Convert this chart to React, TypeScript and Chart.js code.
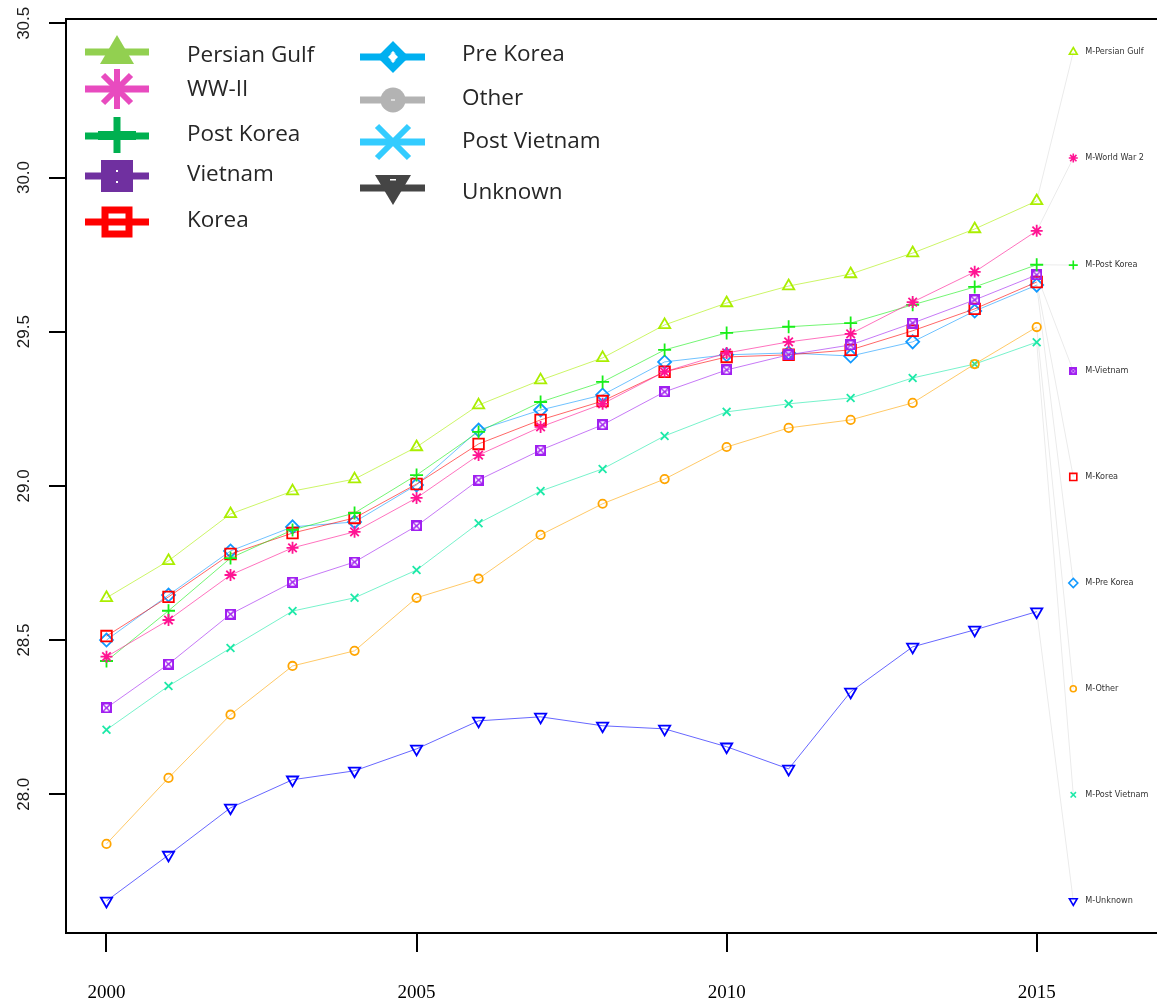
import React, { useEffect, useRef } from "react";
import { Chart, registerables } from "chart.js";
Chart.register(...registerables);

// ---------- DATA ----------
const years = [2000, 2001, 2002, 2003, 2004, 2005, 2006, 2007, 2008, 2009, 2010, 2011, 2012, 2013, 2014, 2015];

const persianGulf = [28.637, 28.757, 28.909, 28.983, 29.022, 29.126, 29.262, 29.343, 29.415, 29.522, 29.593, 29.648, 29.687, 29.755, 29.833, 29.924];
const worldWar2 = [28.446, 28.565, 28.711, 28.799, 28.851, 28.961, 29.100, 29.191, 29.266, 29.370, 29.431, 29.467, 29.493, 29.596, 29.694, 29.827];
const postKorea = [28.432, 28.595, 28.766, 28.857, 28.912, 29.035, 29.175, 29.272, 29.337, 29.441, 29.496, 29.516, 29.528, 29.587, 29.645, 29.717];
const vietnam = [28.280, 28.422, 28.584, 28.688, 28.753, 28.870, 29.019, 29.116, 29.198, 29.305, 29.376, 29.425, 29.457, 29.528, 29.603, 29.684];
const korea = [28.513, 28.640, 28.779, 28.847, 28.896, 29.006, 29.136, 29.214, 29.275, 29.370, 29.418, 29.425, 29.441, 29.503, 29.574, 29.661];
const preKorea = [28.500, 28.646, 28.789, 28.867, 28.883, 29.003, 29.181, 29.246, 29.295, 29.402, 29.425, 29.431, 29.421, 29.467, 29.567, 29.651];
const other = [27.839, 28.053, 28.258, 28.416, 28.465, 28.637, 28.699, 28.841, 28.942, 29.022, 29.126, 29.188, 29.214, 29.269, 29.395, 29.515];
const postVietnam = [28.209, 28.351, 28.474, 28.594, 28.637, 28.727, 28.879, 28.983, 29.055, 29.162, 29.240, 29.266, 29.285, 29.350, 29.395, 29.466];
const unknown = [27.654, 27.803, 27.956, 28.047, 28.076, 28.147, 28.238, 28.251, 28.222, 28.212, 28.154, 28.082, 28.332, 28.478, 28.533, 28.592];

const seriesValues = [persianGulf, worldWar2, postKorea, vietnam, korea, preKorea, other, postVietnam, unknown];

const endLabels = ["M-Persian Gulf", "M-World War 2", "M-Post Korea", "M-Vietnam", "M-Korea", "M-Pre Korea", "M-Other", "M-Post Vietnam", "M-Unknown"];
const endLabelValues = [30.407, 30.063, 29.716, 29.372, 29.029, 28.685, 28.342, 27.998, 27.654];
const endLabelYear = 2015.59;

const yTicks = [28.0, 28.5, 29.0, 29.5, 30.0, 30.5];
const xTicks = [2000, 2005, 2010, 2015];

const legendCol1 = ["Persian Gulf", "WW-II", "Post Korea", "Vietnam", "Korea"];
const legendCol2 = ["Pre Korea", "Other", "Post Vietnam", "Unknown"];

// ---------- STYLES ----------
const seriesColors = ["#aaee00", "#ff1493", "#18ee18", "#a020f0", "#ff0000", "#1199ff", "#ffa500", "#1de9a8", "#0000ff"];
const lineAlpha = 0.6;
const styleNames = ["triangle", "star", "cross", "sqx", "rect", "rectRot", "circle", "crossRot", "triangle"];
const rotations = [0, 0, 0, 0, 0, 0, 0, 0, 180];
const radii = [6.5, 6, 6.5, 6, 7.5, 6.5, 4.2, 5.5, 6.5];
const endRadii = [4.5, 4.5, 4.5, 4, 5, 4.5, 3, 3.8, 4.5];

const legendColors1 = ["#92d050", "#e84bbf", "#00b050", "#7030a0", "#ff0000"];
const legendColors2 = ["#00b0f0", "#b3b3b3", "#33ccff", "#454545"];
const legendKinds1 = ["triUp", "asterisk", "plus", "squareFilled", "squareOpen"];
const legendKinds2 = ["diamond", "circleFilled", "x", "triDown"];

function hexA(hex: string, a: number) {
  const r = parseInt(hex.slice(1, 3), 16), g = parseInt(hex.slice(3, 5), 16), b = parseInt(hex.slice(5, 7), 16);
  return `rgba(${r},${g},${b},${a})`;
}

function makeSqX(size: number, color: string) {
  const c = document.createElement("canvas");
  c.width = size; c.height = size;
  const x = c.getContext("2d")!;
  x.strokeStyle = color;
  x.lineWidth = 2;
  x.strokeRect(1, 1, size - 2, size - 2);
  x.lineWidth = 1.3;
  x.beginPath();
  x.moveTo(2, 2); x.lineTo(size - 2, size - 2);
  x.moveTo(size - 2, 2); x.lineTo(2, size - 2);
  x.stroke();
  return c;
}

function drawLegendMarker(ctx: CanvasRenderingContext2D, kind: string, cx: number, cy: number, color: string) {
  ctx.save();
  ctx.fillStyle = color;
  ctx.strokeStyle = color;
  ctx.lineCap = "butt";
  switch (kind) {
    case "triUp":
      ctx.beginPath(); ctx.moveTo(cx, cy - 17); ctx.lineTo(cx - 17, cy + 12); ctx.lineTo(cx + 17, cy + 12); ctx.closePath(); ctx.fill();
      break;
    case "asterisk":
      ctx.lineWidth = 6;
      ctx.beginPath();
      ctx.moveTo(cx, cy - 20); ctx.lineTo(cx, cy + 20);
      ctx.moveTo(cx - 14, cy - 14); ctx.lineTo(cx + 14, cy + 14);
      ctx.moveTo(cx + 14, cy - 14); ctx.lineTo(cx - 14, cy + 14);
      ctx.stroke();
      break;
    case "plus":
      ctx.lineWidth = 7;
      ctx.beginPath(); ctx.moveTo(cx, cy - 19); ctx.lineTo(cx, cy + 17); ctx.stroke();
      ctx.fillRect(cx - 19, cy - 5, 38, 9);
      break;
    case "squareFilled":
      ctx.fillRect(cx - 16, cy - 16, 32, 32);
      ctx.fillStyle = "#fff";
      ctx.fillRect(cx - 1, cy - 6, 2, 2);
      ctx.fillRect(cx - 1, cy + 5, 2, 2);
      break;
    case "squareOpen":
      ctx.lineWidth = 7;
      ctx.strokeRect(cx - 12, cy - 12, 24, 24);
      break;
    case "diamond":
      ctx.lineWidth = 7;
      ctx.beginPath(); ctx.moveTo(cx, cy - 11); ctx.lineTo(cx + 11, cy); ctx.lineTo(cx, cy + 11); ctx.lineTo(cx - 11, cy); ctx.closePath(); ctx.stroke();
      ctx.fillStyle = "#fff";
      ctx.beginPath(); ctx.moveTo(cx, cy - 5); ctx.lineTo(cx + 5, cy); ctx.lineTo(cx, cy + 5); ctx.lineTo(cx - 5, cy); ctx.closePath(); ctx.fill();
      break;
    case "circleFilled":
      ctx.beginPath(); ctx.arc(cx, cy, 12.5, 0, Math.PI * 2); ctx.fill();
      ctx.fillStyle = "#ddd";
      ctx.fillRect(cx - 2, cy - 1, 4, 2);
      break;
    case "x":
      ctx.lineWidth = 6;
      ctx.beginPath();
      ctx.moveTo(cx - 16, cy - 16); ctx.lineTo(cx + 16, cy + 16);
      ctx.moveTo(cx + 16, cy - 16); ctx.lineTo(cx - 16, cy + 16);
      ctx.stroke();
      break;
    case "triDown":
      ctx.beginPath(); ctx.moveTo(cx - 18, cy - 13); ctx.lineTo(cx + 18, cy - 13); ctx.lineTo(cx, cy + 17); ctx.closePath(); ctx.fill();
      ctx.fillStyle = "#fff";
      ctx.fillRect(cx - 3, cy - 9, 6, 1.5);
      break;
  }
  ctx.restore();
}

// layout constants for the legend
const LEG1 = { x1: 85, x2: 149, mx: 117, tx: 187, my: [52, 89, 136, 176, 222], ty: [56, 90, 135, 175, 221] };
const LEG2 = { x1: 360, x2: 425, mx: 393, tx: 462, my: [57, 100, 142, 188], ty: [55, 99, 142, 193] };

const overlayPlugin = {
  id: "overlay",
  afterDraw(chart: any) {
    const ctx: CanvasRenderingContext2D = chart.ctx;
    const { left, right, top } = chart.chartArea;
    const xs = chart.scales.x, ys = chart.scales.y;
    ctx.save();
    // top frame line
    ctx.strokeStyle = "#000"; ctx.lineWidth = 2;
    ctx.beginPath(); ctx.moveTo(left - 1, top); ctx.lineTo(right, top); ctx.stroke();

    // y tick labels (rotated)
    ctx.fillStyle = "#1a1a1a";
    ctx.font = '17px "Liberation Sans", Arial, sans-serif';
    ctx.textAlign = "center"; ctx.textBaseline = "middle";
    yTicks.forEach((v) => {
      const py = ys.getPixelForValue(v);
      ctx.save(); ctx.translate(24, py); ctx.rotate(-Math.PI / 2); ctx.fillText(v.toFixed(1), 0, 0); ctx.restore();
    });
    // x tick labels
    ctx.fillStyle = "#000";
    ctx.font = '19px "Liberation Serif", serif';
    xTicks.forEach((v) => ctx.fillText(String(v), xs.getPixelForValue(v), 993));

    // end labels
    ctx.fillStyle = "#333";
    ctx.font = '9px "DejaVu Sans Condensed", "Liberation Sans", sans-serif';
    ctx.textAlign = "left";
    endLabels.forEach((t, i) => ctx.fillText(t, xs.getPixelForValue(endLabelYear) + 12, ys.getPixelForValue(endLabelValues[i])));

    // legend
    const drawCol = (L: any, labels: string[], colors: string[], kinds: string[]) => {
      labels.forEach((lab, i) => {
        ctx.strokeStyle = colors[i]; ctx.lineWidth = 7;
        ctx.beginPath(); ctx.moveTo(L.x1, L.my[i]); ctx.lineTo(L.x2, L.my[i]); ctx.stroke();
        drawLegendMarker(ctx, kinds[i], L.mx, L.my[i], colors[i]);
        ctx.fillStyle = "#262626";
        ctx.font = '22.5px "Open Sans", "Noto Sans", sans-serif';
        ctx.textAlign = "left"; ctx.textBaseline = "middle";
        ctx.fillText(lab, L.tx, L.ty[i]);
      });
    };
    drawCol(LEG1, legendCol1, legendColors1, legendKinds1);
    drawCol(LEG2, legendCol2, legendColors2, legendKinds2);
    ctx.restore();
  },
};

export default function App() {
  const ref = useRef<HTMLCanvasElement>(null);
  useEffect(() => {
    if (!ref.current) return;
    const bigSq = makeSqX(11, seriesColors[3]);
    const smallSq = makeSqX(8, seriesColors[3]);
    const styleFor = (i: number, small: boolean): any => (styleNames[i] === "sqx" ? (small ? smallSq : bigSq) : styleNames[i]);

    const mainSets = seriesValues.map((vals, i) => ({
      label: endLabels[i],
      data: years.map((y, j) => ({ x: y, y: vals[j] })),
      borderColor: hexA(seriesColors[i], lineAlpha),
      borderWidth: 1,
      pointStyle: styleFor(i, false),
      rotation: rotations[i],
      pointRadius: radii[i],
      pointBorderColor: seriesColors[i],
      pointBackgroundColor: "rgba(0,0,0,0)",
      pointBorderWidth: 1.8,
      tension: 0,
    }));
    const leaderSets = seriesValues.map((vals, i) => ({
      label: endLabels[i] + " leader",
      data: [
        { x: years[years.length - 1], y: vals[vals.length - 1] },
        { x: endLabelYear, y: endLabelValues[i] },
      ],
      borderColor: "#ebebeb",
      borderWidth: 1,
      pointStyle: styleFor(i, true),
      rotation: rotations[i],
      pointRadius: [0, endRadii[i]],
      pointBorderColor: seriesColors[i],
      pointBackgroundColor: "rgba(0,0,0,0)",
      pointBorderWidth: 1.6,
    }));

    const chart = new Chart(ref.current, {
      type: "line",
      data: { datasets: [...mainSets, ...leaderSets] as any },
      plugins: [overlayPlugin],
      options: {
        animation: false,
        responsive: false,
        events: [],
        layout: { autoPadding: false, padding: { top: 19, right: 0, left: 0, bottom: 0 } },
        plugins: { legend: { display: false }, tooltip: { enabled: false } },
        scales: {
          x: {
            type: "linear",
            min: 1999.347,
            max: 2016.94,
            afterBuildTicks: (s: any) => { s.ticks = xTicks.map((v) => ({ value: v })); },
            afterFit: (s: any) => { s.height = 71; s.paddingLeft = 0; s.paddingRight = 0; },
            ticks: { display: false },
            grid: { drawOnChartArea: false, drawTicks: true, tickLength: 19, color: "#000", lineWidth: 2 },
            border: { display: true, color: "#000", width: 2 },
          },
          y: {
            type: "linear",
            min: 27.55,
            max: 30.514,
            afterBuildTicks: (s: any) => { s.ticks = yTicks.map((v) => ({ value: v })); },
            afterFit: (s: any) => { s.width = 66; s.paddingTop = 0; s.paddingBottom = 0; },
            ticks: { display: false },
            grid: { drawOnChartArea: false, drawTicks: true, tickLength: 17, color: "#000", lineWidth: 2 },
            border: { display: true, color: "#000", width: 2 },
          },
        },
      } as any,
    });
    return () => chart.destroy();
  }, []);
  return (
    <div style={{ position: "absolute", left: 0, top: 0, width: 1157, height: 1004, background: "#fff" }}>
      <canvas ref={ref} width={1157} height={1004} style={{ display: "block" }} />
    </div>
  );
}
